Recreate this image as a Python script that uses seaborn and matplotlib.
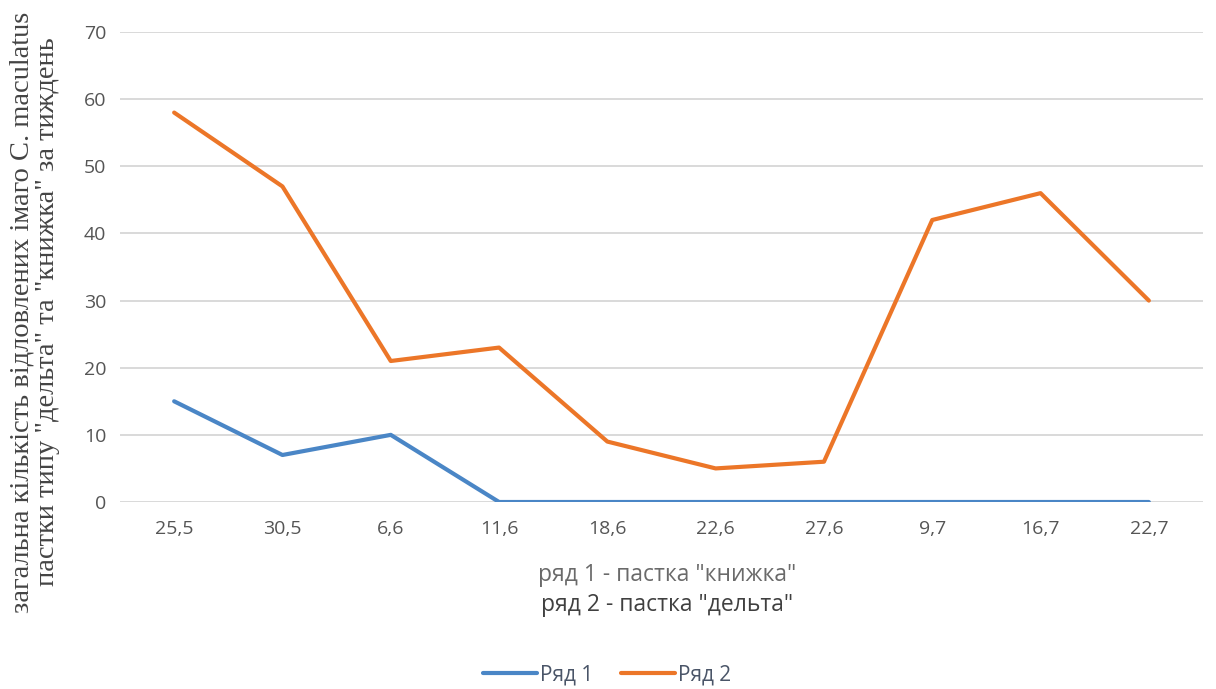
import matplotlib
matplotlib.use("Agg")
import matplotlib.pyplot as plt
import seaborn as sns
import pandas as pd

# Observation dates (day,month) and weekly catches per trap type
dates = ["25,5", "30,5", "6,6", "11,6", "18,6", "22,6", "27,6", "9,7", "16,7", "22,7"]
row1 = [15, 7, 10, 0, 0, 0, 0, 0, 0, 0]       # trap "книжка"
row2 = [58, 47, 21, 23, 9, 5, 6, 42, 46, 30]  # trap "дельта"
series_names = ["Ряд 1", "Ряд 2"]
colors = ["#4a86c6", "#ec7628"]

df = pd.DataFrame({
    "date": dates * 2,
    "count": row1 + row2,
    "series": [series_names[0]] * len(dates) + [series_names[1]] * len(dates),
})

sns.set_theme(style="white")
plt.rcParams["font.family"] = ["Open Sans", "DejaVu Sans"]

W, H = 1216, 689
fig = plt.figure(figsize=(W / 100, H / 100), dpi=100)
ax = fig.add_axes([120 / W, 1 - 502 / H, (1203 - 120) / W, (502 - 32) / H])

sns.lineplot(data=df, x="date", y="count", hue="series", palette=colors,
             linewidth=3.0, ax=ax, legend=False, sort=False)

ax.set_xlim(-0.5, len(dates) - 0.5)
ax.set_ylim(0, 70)
ax.set_yticks(range(0, 71, 10))
ax.yaxis.grid(True, color="#d9d9d9", linewidth=1.4)
ax.set_axisbelow(True)
for s in ax.spines.values():
    s.set_visible(False)
ax.tick_params(axis="both", length=0, labelsize=14, labelcolor="#555555")
ax.tick_params(axis="x", pad=13)
ax.tick_params(axis="y", pad=10)
ax.set_xlabel("")
ax.set_ylabel("")

# Axis titles
xc = 667 / W
fig.text(xc, 1 - 575 / H, 'ряд 1 - пастка "книжка"', ha="center", va="center",
         fontsize=16.5, color="#6a6a6a")
fig.text(xc, 1 - 605 / H, 'ряд 2 - пастка "дельта"', ha="center", va="center",
         fontsize=16.5, color="#404040")
fig.text(35 / W, 1 - 312 / H,
         'загальна кількість відловлених імаго C. maculatus\n'
         'пастки типу "дельта" та "книжка" за тиждень',
         rotation=90, ha="center", va="center", multialignment="center",
         family="Liberation Serif", fontsize=20.5, color="#444444", linespacing=1.0)

handles = [plt.Line2D([], [], color=c, linewidth=3.0) for c in colors]
fig.legend(handles, series_names, loc="center", bbox_to_anchor=(607 / W, 1 - 675 / H),
           ncol=2, frameon=False, fontsize=15, labelcolor="#4a5568",
           handlelength=2.6, handletextpad=0.15, columnspacing=1.3)

fig.savefig("out.png", dpi=100, facecolor="white")
